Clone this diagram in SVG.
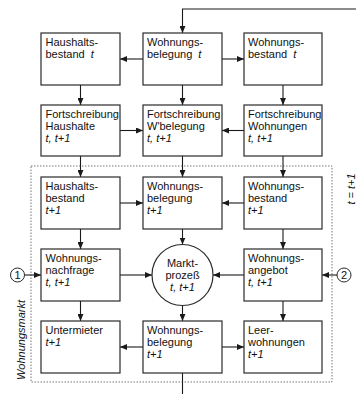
<svg xmlns="http://www.w3.org/2000/svg" width="356" height="394" viewBox="0 0 356 394">
<defs>
<marker id="ah" viewBox="0 0 7 6" markerWidth="7" markerHeight="6" refX="7" refY="3" orient="auto" markerUnits="userSpaceOnUse">
<path d="M0,0 L7,3 L0,6 z" fill="#1a1a1a"/>
</marker>
<style>
.box{fill:#fff;stroke:#2a2a2a;stroke-width:1.2}
.t{font-family:"Liberation Sans",Arial,sans-serif;font-size:11px;fill:#111}
.i{font-style:italic}
.c{stroke:#1a1a1a;stroke-width:1.1;fill:none}
.a{marker-end:url(#ah)}
.dash{fill:none;stroke:#777;stroke-width:1;stroke-dasharray:1.5 1.5}
</style>
</defs>
<rect width="356" height="394" fill="#fff"/>
<rect class="dash" x="31" y="166" width="301" height="216"/>
<text class="t i" transform="translate(355,189) rotate(-90)" text-anchor="middle">t = t+1</text>
<text class="t i" transform="translate(25,340) rotate(-90)" text-anchor="middle">Wohnungsmarkt</text>

<g id="connectors">
<path class="c a" d="M356,9 H182.5 V33"/>
<path class="c a" d="M143,59 H120"/>
<path class="c a" d="M222,59 H244"/>
<path class="c a" d="M80.5,85 V105"/>
<path class="c a" d="M182.5,85 V105"/>
<path class="c a" d="M283,85 V105"/>
<path class="c a" d="M120,130.5 H143"/>
<path class="c a" d="M244,130.5 H222"/>
<path class="c a" d="M80.5,156 V177"/>
<path class="c a" d="M182.5,156 V177"/>
<path class="c a" d="M283,156 V177"/>
<path class="c a" d="M120,203 H143"/>
<path class="c a" d="M244,203 H222"/>
<path class="c a" d="M80.5,229 V249"/>
<path class="c a" d="M182.5,229 V244.5"/>
<path class="c a" d="M283,229 V249"/>
<path class="c a" d="M120,275 H152"/>
<path class="c a" d="M244,275 H213"/>
<path class="c a" d="M24.5,275 H41"/>
<path class="c a" d="M337,275 H322"/>
<path class="c a" d="M80.5,301 V321"/>
<path class="c a" d="M182.5,305.5 V321"/>
<path class="c a" d="M283,301 V321"/>
<path class="c a" d="M143,347 H120"/>
<path class="c a" d="M222,347 H244"/>
<path class="c" d="M182.5,373 V394"/>
</g>

<g id="n-haushaltsbestand-t">
<rect class="box" x="41" y="33" width="79" height="52"/>
<text class="t" x="45.5" y="46">Haushalts-</text>
<text class="t" x="45.5" y="58">bestand <tspan class="i" dx="3">t</tspan></text>
</g>
<g id="n-wohnungsbelegung-t">
<rect class="box" x="143" y="33" width="79" height="52"/>
<text class="t" x="147" y="46">Wohnungs-</text>
<text class="t" x="147" y="58">belegung <tspan class="i" dx="3">t</tspan></text>
</g>
<g id="n-wohnungsbestand-t">
<rect class="box" x="244" y="33" width="78" height="52"/>
<text class="t" x="248" y="46">Wohnungs-</text>
<text class="t" x="248" y="58">bestand <tspan class="i" dx="3">t</tspan></text>
</g>

<g id="n-fs-haushalte">
<rect class="box" x="41" y="105" width="79" height="51"/>
<text class="t" x="45.5" y="118">Fortschreibung</text>
<text class="t" x="45.5" y="130">Haushalte</text>
<text class="t i" x="45.5" y="142">t, t+1</text>
</g>
<g id="n-fs-wbelegung">
<rect class="box" x="143" y="105" width="79" height="51"/>
<text class="t" x="147" y="118">Fortschreibung</text>
<text class="t" x="147" y="130">W'belegung</text>
<text class="t i" x="147" y="142">t, t+1</text>
</g>
<g id="n-fs-wohnungen">
<rect class="box" x="244" y="105" width="78" height="51"/>
<text class="t" x="248" y="118">Fortschreibung</text>
<text class="t" x="248" y="130">Wohnungen</text>
<text class="t i" x="248" y="142">t, t+1</text>
</g>

<g id="n-haushaltsbestand-t1">
<rect class="box" x="41" y="177" width="79" height="52"/>
<text class="t" x="45.5" y="190">Haushalts-</text>
<text class="t" x="45.5" y="202">bestand</text>
<text class="t i" x="45.5" y="214">t+1</text>
</g>
<g id="n-wohnungsbelegung-t1">
<rect class="box" x="143" y="177" width="79" height="52"/>
<text class="t" x="147" y="190">Wohnungs-</text>
<text class="t" x="147" y="202">belegung</text>
<text class="t i" x="147" y="214">t+1</text>
</g>
<g id="n-wohnungsbestand-t1">
<rect class="box" x="244" y="177" width="78" height="52"/>
<text class="t" x="248" y="190">Wohnungs-</text>
<text class="t" x="248" y="202">bestand</text>
<text class="t i" x="248" y="214">t+1</text>
</g>

<g id="n-nachfrage">
<rect class="box" x="41" y="249" width="79" height="52"/>
<text class="t" x="45.5" y="262">Wohnungs-</text>
<text class="t" x="45.5" y="274">nachfrage</text>
<text class="t i" x="45.5" y="286">t, t+1</text>
</g>
<g id="n-marktprozess">
<circle cx="182.5" cy="275" r="30.5" fill="#fff" stroke="#2a2a2a" stroke-width="1.2"/>
<text class="t" x="182.5" y="267" text-anchor="middle">Markt-</text>
<text class="t" x="182.5" y="279" text-anchor="middle">prozeß</text>
<text class="t i" x="182.5" y="291" text-anchor="middle">t, t+1</text>
</g>
<g id="n-angebot">
<rect class="box" x="244" y="249" width="78" height="52"/>
<text class="t" x="248" y="262">Wohnungs-</text>
<text class="t" x="248" y="274">angebot</text>
<text class="t i" x="248" y="286">t, t+1</text>
</g>
<g id="n-input1">
<circle cx="17.5" cy="275" r="7" fill="#fff" stroke="#2a2a2a" stroke-width="1"/>
<text class="t" x="17.5" y="279" text-anchor="middle">1</text>
</g>
<g id="n-input2">
<circle cx="344" cy="275" r="7" fill="#fff" stroke="#2a2a2a" stroke-width="1"/>
<text class="t" x="344" y="279" text-anchor="middle">2</text>
</g>

<g id="n-untermieter">
<rect class="box" x="41" y="321" width="79" height="52"/>
<text class="t" x="45.5" y="334">Untermieter</text>
<text class="t i" x="45.5" y="346">t+1</text>
</g>
<g id="n-wohnungsbelegung-t1b">
<rect class="box" x="143" y="321" width="79" height="52"/>
<text class="t" x="147" y="334">Wohnungs-</text>
<text class="t" x="147" y="346">belegung</text>
<text class="t i" x="147" y="358">t+1</text>
</g>
<g id="n-leerwohnungen">
<rect class="box" x="244" y="321" width="78" height="52"/>
<text class="t" x="248" y="334">Leer-</text>
<text class="t" x="248" y="346">wohnungen</text>
<text class="t i" x="248" y="358">t+1</text>
</g>
</svg>
